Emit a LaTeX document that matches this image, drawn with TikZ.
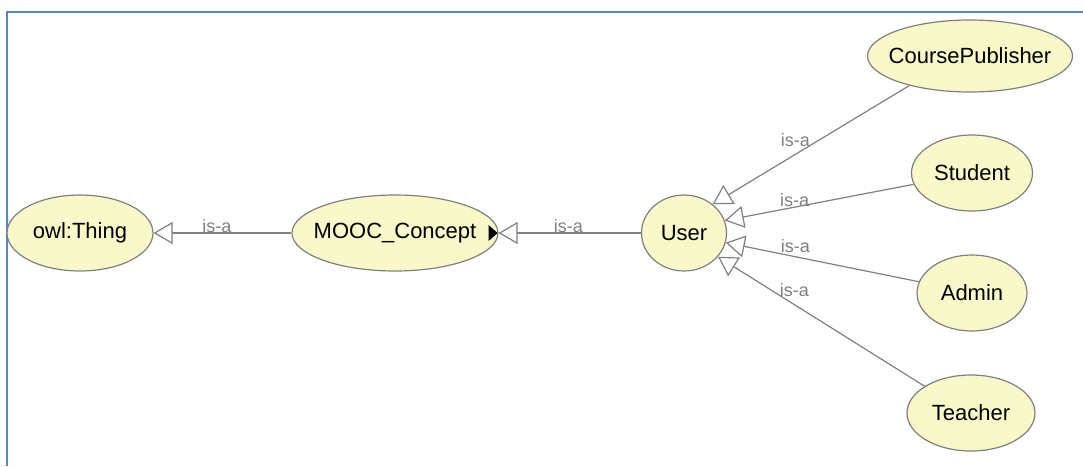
\documentclass[tikz,border=0pt]{standalone}
\usepackage{fontspec}
\setmainfont{Liberation Sans}
\usetikzlibrary{shapes.geometric,arrows.meta}
\definecolor{clsfill}{HTML}{F8F8C8}
\definecolor{clsline}{HTML}{7F7F7F}
\definecolor{framebl}{HTML}{5585C5}

\begin{document}
\begin{tikzpicture}[x=1pt, y=-1pt,
  cls/.style={ellipse, draw=clsline, fill=clsfill, line width=1.2pt, inner xsep=-20pt, inner ysep=0pt, minimum height=76pt, font=\fontsize{22}{26}\selectfont},
  isa/.style={draw=clsline, line width=1.2pt, -{Triangle[open, length=19pt, width=22pt]}},
  lbl/.style={anchor=south, inner sep=0pt, text=clsline, font=\fontsize{18}{20}\selectfont}]
\useasboundingbox (0,0) rectangle (1083,466);
\draw[framebl, line width=2pt] (7,466) -- (7,12) -- (1083,12);
\node[cls, minimum width=146pt] (thing) at (80,233) {owl:Thing};
\node[cls, minimum width=206pt] (mooc) at (395,233) {MOOC\_Concept};
\node[cls, minimum width=85pt] (user) at (684,233) {User};
\node[cls, minimum width=205pt, minimum height=72pt] (cp) at (970,56) {CoursePublisher};
\node[cls, minimum width=121pt] (student) at (972,173) {Student};
\node[cls, minimum width=110pt] (admin) at (972,293) {Admin};
\node[cls, minimum width=128pt] (teacher) at (971,413) {Teacher};
\fill (mooc.east) ++(-1,0) -- ++(-9,-8) -- ++(0,16) -- cycle;
\draw[isa] (mooc) -- node[lbl, pos=0.54] {is-a} (thing);
\draw[isa] (user) -- node[lbl, pos=0.51] {is-a} (mooc);
\draw[isa] (cp.206) -- node[lbl, pos=0.58, above=7pt] {is-a} (user.45);
\draw[isa] (student.191) -- node[lbl, pos=0.63] {is-a} (user.17);
\draw[isa] (admin.168) -- node[lbl, pos=0.64, above=3.5pt] {is-a} (user.-13);
\draw[isa] (teacher.150) -- node[lbl, pos=0.63, above=7pt] {is-a} (user.-35);
\end{tikzpicture}
\end{document}
